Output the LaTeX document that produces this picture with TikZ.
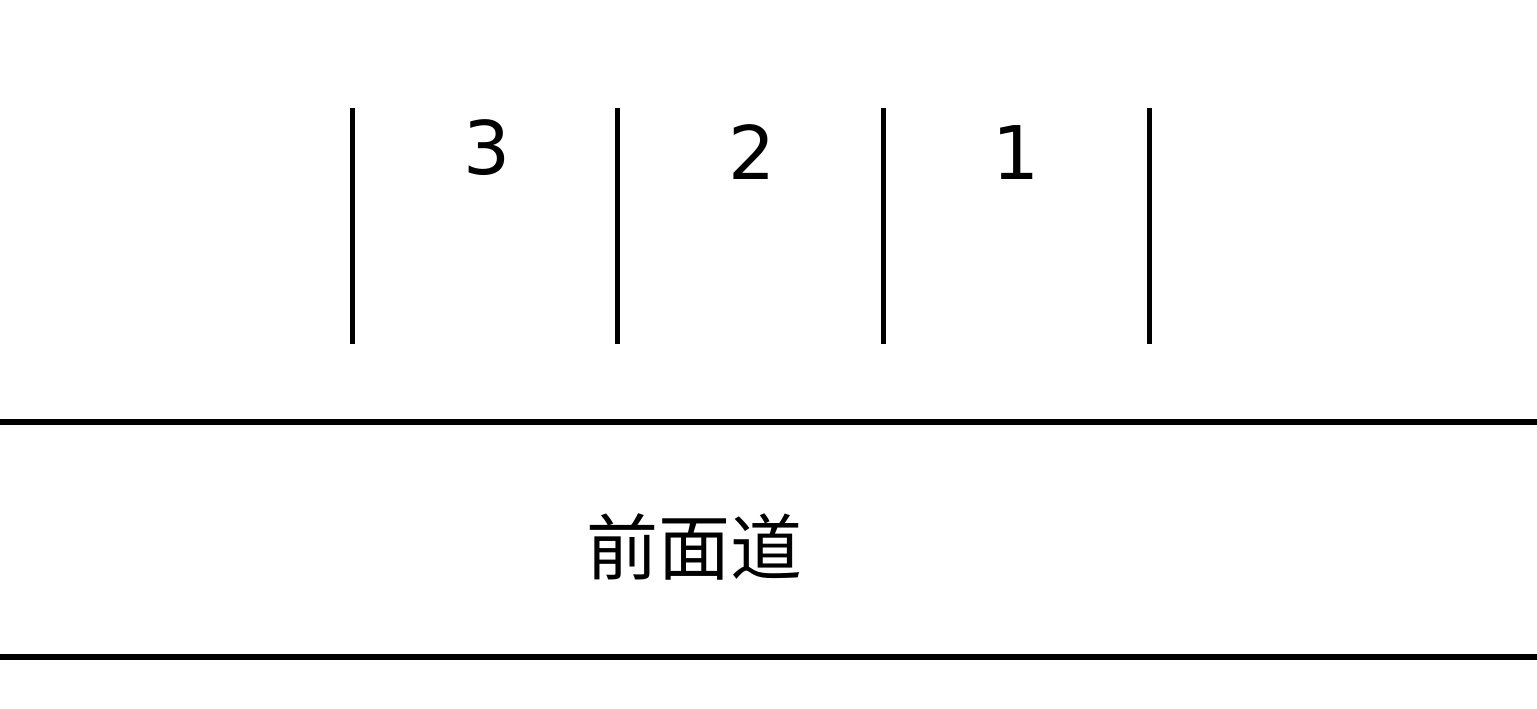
\documentclass[tikz,border=0pt]{standalone}
\usepackage{fontspec}
\newfontfamily\numfont{DejaVu Sans}
\newfontfamily\cjk{Noto Sans CJK SC}
\begin{document}
\begin{tikzpicture}[x=0.5pt,y=-0.5pt,
  wall/.style={line width=2.5pt},
  road/.style={line width=2.6pt},
  num/.style={font=\numfont\fontsize{37}{40}\selectfont, inner sep=0pt},
  lbl/.style={font=\cjk\fontsize{36}{38}\selectfont, inner sep=0pt}]
\useasboundingbox (0,0) rectangle (1537,708);
\foreach \x in {352,617,883,1149}{
  \draw[wall] (\x,108) -- (\x,344);
}
\node[num] (n3) at (487,148) {3};
\node[num] (n2) at (752,152) {2};
\node[num] (n1) at (1016,153) {1};
\draw[road] (0,422) -- (1537,422);
\draw[road] (0,657) -- (1537,657);
\node[lbl] (road) at (694,547) {前面道};
\end{tikzpicture}
\end{document}
